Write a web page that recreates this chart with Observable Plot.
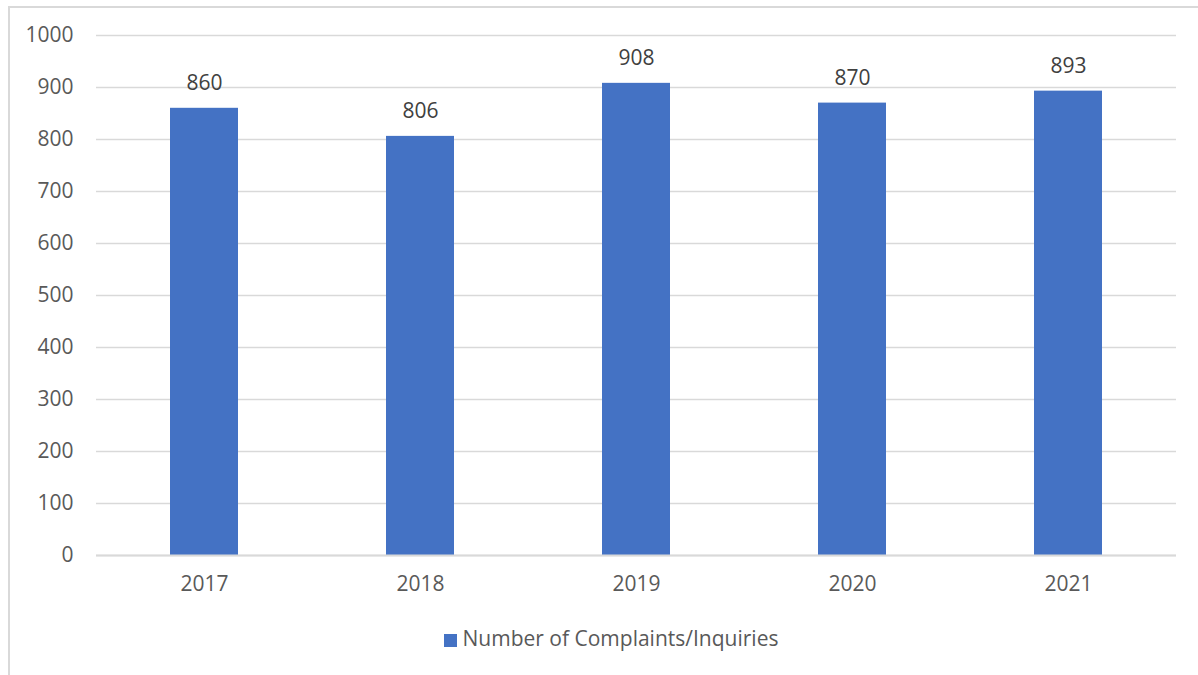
<!DOCTYPE html>
<html>
<head>
<meta charset="utf-8">
<script src="https://cdn.jsdelivr.net/npm/d3@7"></script>
<script src="https://cdn.jsdelivr.net/npm/@observablehq/plot@0.6"></script>
<style>
  html, body { margin: 0; padding: 0; background: #fff; }
  body { width: 1198px; height: 675px; position: relative; overflow: hidden; font-family: "Open Sans", Lato, sans-serif; }
  #frame { position: absolute; left: 8px; top: 6px; width: 1200px; height: 680px;
           border-left: 2px solid #d9d9d9; border-top: 2px solid #d9d9d9; box-sizing: border-box; }
  #chart { position: absolute; left: 0; top: 0; }
  #legend { position: absolute; left: 0; width: 1222px; top: 624px; text-align: center;
            font-size: 21px; color: #595959; }
  #legend .sw { display: inline-block; width: 13px; height: 13px; background: #4472c4;
                margin-right: 6px; vertical-align: -1px; }
</style>
</head>
<body>
<div id="frame"></div>
<div id="chart"></div>
<div id="legend"><span class="sw"></span>Number of Complaints/Inquiries</div>
<script>
const years = ["2017", "2018", "2019", "2020", "2021"];
const complaints = [860, 806, 908, 870, 893];
const yTicks = [0, 100, 200, 300, 400, 500, 600, 700, 800, 900, 1000];

const data = years.map((year, i) => ({year, value: complaints[i]}));

const chart = Plot.plot({
  width: 1198,
  height: 600,
  marginLeft: 96,
  marginRight: 22,
  marginTop: 35,
  marginBottom: 45,
  style: {fontFamily: "'Open Sans', Lato, sans-serif", fontSize: "21px", color: "#595959", background: "transparent"},
  x: {domain: years, paddingInner: 0.685, paddingOuter: 0.3425, label: null},
  y: {domain: [0, 1000], label: null},
  marks: [
    Plot.ruleY(yTicks, {stroke: "#d9d9d9", strokeWidth: 1.5, strokeOpacity: 1}),
    Plot.barY(data, {x: "year", y: "value", fill: "#4472c4"}),
    Plot.ruleY([0], {stroke: "#d9d9d9", strokeWidth: 2, strokeOpacity: 1}),
    Plot.text(data, {x: "year", y: "value", text: d => String(d.value), dy: -25,
                     fill: "#404040", fontSize: 21}),
    Plot.axisY({ticks: yTicks, tickFormat: d => String(d), tickSize: 0, tickPadding: 23,
                fill: "#595959", fontSize: 21, label: null}),
    Plot.axisX({tickSize: 0, tickPadding: 21, fill: "#595959", fontSize: 21, label: null})
  ]
});
document.getElementById("chart").appendChild(chart);
</script>
</body>
</html>
